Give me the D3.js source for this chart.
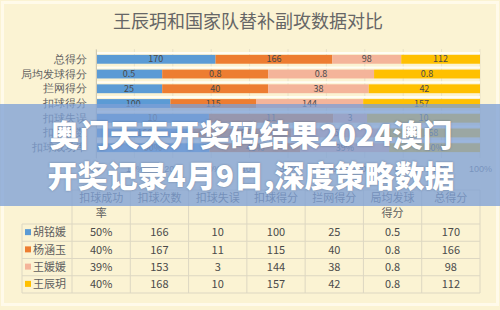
<!DOCTYPE html>
<html>
<head>
<meta charset="utf-8">
<script src="https://cdn.jsdelivr.net/npm/d3@7"></script>
<style>
  html, body { margin: 0; padding: 0; background: #fbf3d3; }
  svg { display: block; font-family: "Noto Sans CJK SC", "Noto Sans", sans-serif; }
</style>
</head>
<body>
<svg id="chart" width="500" height="310"></svg>
<script>
// metrics in table order (left to right); bars are drawn bottom-up in this order
const metrics = ['扣球成功率', '扣球次数', '扣球失误', '扣球得分', '拦网得分', '局均发球得分', '总得分'];
const headerLines = [['扣球成功', '率'], ['扣球次数'], ['扣球失误'], ['扣球得分'], ['拦网得分'], ['局均发球', '得分'], ['总得分']];
const players = ['胡铭媛', '杨涵玉', '王媛媛', '王辰玥'];
const colors = ['#5b9bd5', '#ed7d31', '#f4b49a', '#ffc000'];

const huMingyuan = [0.5, 166, 10, 100, 25, 0.5, 170];
const yangHanyu = [0.4, 167, 11, 115, 40, 0.8, 166];
const wangYuanyuan = [0.39, 153, 3, 144, 38, 0.8, 98];
const wangChenyue = [0.4, 168, 10, 157, 42, 0.8, 112];
const seriesValues = [huMingyuan, yangHanyu, wangYuanyuan, wangChenyue];

const xTicks = [0, 0.1, 0.2, 0.3, 0.4, 0.5, 0.6, 0.7, 0.8, 0.9, 1];

const title = '王辰玥和国家队替补副攻数据对比';
const overlayLines = ['奥门天天开奖码结果2024澳门', '开奖记录4月9日,深度策略数据'];

const fmt = (m, v) => m === '扣球成功率' ? d3.format('.0%')(v) : String(v);

const svg = d3.select('#chart');
const width = 500, height = 310;

// frame
svg.append('rect').attr('x', 0).attr('y', 0).attr('width', width).attr('height', height).attr('fill', '#fbf3d3');
svg.append('rect').attr('x', 2.5).attr('y', 2.5).attr('width', width - 5).attr('height', height - 8)
  .attr('fill', 'none').attr('stroke', '#fffaea').attr('stroke-width', 3);

svg.append('text')
  .attr('x', 248).attr('y', 28)
  .attr('text-anchor', 'middle')
  .attr('font-size', 18)
  .attr('fill', '#666666')
  .text(title);

// stacked 100% bars
const x = d3.scaleLinear().domain([0, 1]).range([96, 480]);
const y = d3.scaleBand().domain(metrics.slice().reverse()).range([49, 158]).padding(0.4);

const stackRows = metrics.map((m, i) => {
  const row = { metric: m };
  players.forEach((p, j) => { row[p] = seriesValues[j][i]; });
  return row;
});
const stacked = d3.stack().keys(players).offset(d3.stackOffsetExpand)(stackRows);

const plot = svg.append('g');

plot.selectAll('.grid')
  .data(xTicks)
  .join('line')
  .attr('class', 'grid')
  .attr('x1', d => x(d)).attr('x2', d => x(d))
  .attr('y1', 49).attr('y2', 158)
  .attr('stroke', '#e9e2c8')
  .attr('stroke-width', 1);

plot.selectAll('.rowline')
  .data(y.domain())
  .join('line')
  .attr('class', 'rowline')
  .attr('x1', x(0)).attr('x2', x(1))
  .attr('y1', d => y(d) - 2).attr('y2', d => y(d) - 2)
  .attr('stroke', '#fffdf4')
  .attr('stroke-width', 2);

stacked.forEach((layer, j) => {
  const g = plot.append('g').attr('fill', colors[j]);
  g.selectAll('rect')
    .data(layer)
    .join('rect')
    .attr('x', d => x(d[0]))
    .attr('y', d => y(d.data.metric))
    .attr('width', d => x(d[1]) - x(d[0]))
    .attr('height', y.bandwidth());
  plot.append('g').selectAll('text')
    .data(layer)
    .join('text')
    .attr('x', d => (x(d[0]) + x(d[1])) / 2)
    .attr('y', d => y(d.data.metric) + y.bandwidth() / 2)
    .attr('dy', '0.35em')
    .attr('text-anchor', 'middle')
    .attr('font-size', 9)
    .attr('fill', '#4a4a4a')
    .text(d => fmt(d.data.metric, d.data[players[j]]));
});

const yAxis = d3.axisLeft(y).tickSize(0).tickPadding(9);
plot.append('g')
  .attr('transform', `translate(${x(0)},0)`)
  .call(yAxis)
  .call(g => g.select('.domain').attr('stroke', '#d0cab4'))
  .call(g => g.selectAll('text').attr('font-size', 11).attr('fill', '#5f5f5f').attr('font-family', 'inherit'));

const xAxis = d3.axisBottom(x).tickValues(xTicks).tickFormat(d3.format('.0%')).tickSize(0).tickPadding(6);
plot.append('g')
  .attr('transform', 'translate(0,160)')
  .call(xAxis)
  .call(g => g.select('.domain').remove())
  .call(g => g.selectAll('text').attr('font-size', 9).attr('fill', '#6f6f6f').attr('font-family', 'inherit'));

// data table
const col = d3.scaleBand().domain(metrics).range([72, 480]);
const rowY = d3.scaleBand().domain(players).range([224, 293]);
const table = svg.append('g');
const lineColor = '#ddd7c2';

table.selectAll('.vline')
  .data(metrics.concat(['end']))
  .join('line')
  .attr('class', 'vline')
  .attr('x1', (d, i) => 72 + i * col.bandwidth())
  .attr('x2', (d, i) => 72 + i * col.bandwidth())
  .attr('y1', 190).attr('y2', 293)
  .attr('stroke', lineColor);

table.append('line').attr('x1', 22).attr('x2', 22).attr('y1', 224).attr('y2', 293).attr('stroke', lineColor);
table.append('line').attr('x1', 72).attr('x2', 480).attr('y1', 190).attr('y2', 190).attr('stroke', lineColor);

table.selectAll('.hline')
  .data(players.concat(['end']))
  .join('line')
  .attr('class', 'hline')
  .attr('x1', 22).attr('x2', 480)
  .attr('y1', (d, i) => 224 + i * rowY.bandwidth())
  .attr('y2', (d, i) => 224 + i * rowY.bandwidth())
  .attr('stroke', lineColor);

metrics.forEach((m, i) => {
  const t = table.append('text')
    .attr('x', col(m) + col.bandwidth() / 2)
    .attr('y', 202)
    .attr('text-anchor', 'middle')
    .attr('font-size', 11)
    .attr('fill', '#5f5f5f');
  headerLines[i].forEach((line, k) => {
    t.append('tspan').attr('x', col(m) + col.bandwidth() / 2).attr('dy', k === 0 ? 0 : 15).text(line);
  });
});

players.forEach((p, j) => {
  const cy = rowY(p) + rowY.bandwidth() / 2;
  table.append('rect').attr('x', 25).attr('y', cy - 3.5).attr('width', 6).attr('height', 6).attr('fill', colors[j]);
  table.append('text').attr('x', 33).attr('y', cy).attr('dy', '0.35em')
    .attr('font-size', 11).attr('fill', '#5f5f5f').text(p);
  metrics.forEach((m, i) => {
    table.append('text')
      .attr('x', col(m) + col.bandwidth() / 2)
      .attr('y', cy).attr('dy', '0.35em')
      .attr('text-anchor', 'middle')
      .attr('font-size', 11)
      .attr('fill', '#4a4a4a')
      .text(fmt(m, seriesValues[j][i]));
  });
});

// overlay band with headline
svg.append('rect')
  .attr('x', 0).attr('y', 104).attr('width', width).attr('height', 102)
  .attr('fill', '#7c9fd6').attr('opacity', 0.76);

svg.append('g').selectAll('text')
  .data(overlayLines)
  .join('text')
  .attr('x', 251)
  .attr('y', (d, i) => 146 + i * 41)
  .attr('text-anchor', 'middle')
  .attr('font-size', 30)
  .attr('font-weight', 900)
  .attr('fill', '#ffffff')
  .style('text-shadow', '0 0 2px rgba(60,70,90,0.5)')
  .text(d => d);
</script>
</body>
</html>
